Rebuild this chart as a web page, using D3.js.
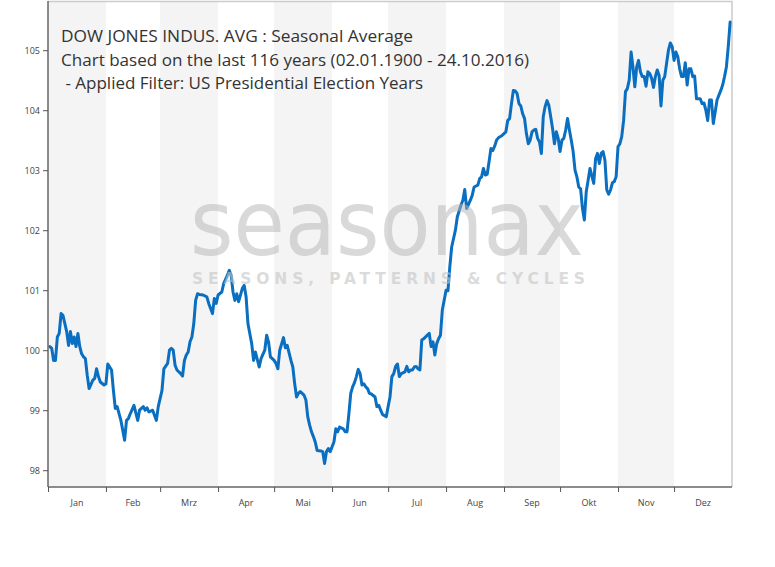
<!DOCTYPE html>
<html>
<head>
<meta charset="utf-8">
<script src="https://cdn.jsdelivr.net/npm/d3@7"></script>
<style>
  html, body { margin: 0; padding: 0; background: #fff; }
  svg { display: block; }
</style>
</head>
<body>
<svg id="chart" width="775" height="567"></svg>
<script>
// ---- data ----
const titleLines = [
  "DOW JONES INDUS. AVG : Seasonal Average",
  "Chart based on the last 116 years (02.01.1900 - 24.10.2016)",
  " - Applied Filter: US Presidential Election Years"
];
const monthLabels = ["Jan","Feb","Mrz","Apr","Mai","Jun","Jul","Aug","Sep","Okt","Nov","Dez"];
const yTicks = [98, 99, 100, 101, 102, 103, 104, 105];
// day offsets from 1 January (leap year), and seasonal values
const dayOffsets = [1,2,3,4,5,6,7,8,10,11,12,13,14,15,16,17,18,19,20,21,22,24,25,26,27,28,30,31,32,33,34,35,36,37,39,41,42,43,44,46,48,49,50,51,52,53,54,56,58,59,61,62,64,65,66,67,68,69,71,72,73,74,75,76,77,78,79,80,81,83,85,86,88,89,90,91,93,94,96,97,98,99,100,101,102,104,105,106,107,109,110,111,113,114,116,117,118,119,121,122,123,124,126,127,128,130,131,132,133,134,135,137,138,139,140,141,142,143,144,146,147,148,149,150,151,153,154,155,156,158,159,160,161,162,163,164,165,166,167,168,169,170,171,172,173,175,176,177,178,179,181,182,183,184,185,186,187,188,189,191,192,193,194,195,196,197,198,199,200,201,203,204,205,206,207,208,209,210,211,213,214,215,216,218,219,221,222,223,224,226,227,228,230,231,232,233,234,235,236,237,238,239,240,241,243,244,245,246,247,248,249,250,251,252,253,254,255,256,257,258,259,260,261,262,263,264,265,266,267,268,269,270,271,272,273,274,275,276,277,278,279,280,281,282,283,284,285,286,287,288,289,290,292,293,294,295,296,297,298,299,300,301,302,303,304,305,306,307,308,309,310,311,312,313,314,315,316,317,318,319,320,321,322,323,324,325,326,327,328,329,330,331,332,333,334,335,336,337,338,339,340,341,342,343,344,345,346,347,348,349,350,351,352,353,354,355,356,357,358,360,361,362,363,364,365];
const seasonalValues = [100.06,100.03,99.83,99.83,100.22,100.28,100.61,100.58,100.31,100.08,100.31,100.11,100.22,100.06,100.28,100.06,99.94,99.89,99.86,99.58,99.36,99.5,99.53,99.69,99.56,99.47,99.42,99.44,99.77,99.72,99.67,99.33,99.03,99.06,98.83,98.5,98.83,98.86,98.94,99.08,98.83,99.0,99.03,99.06,99.0,99.04,98.97,99.0,98.83,99.06,99.33,99.69,99.78,100.0,100.03,100.0,99.75,99.67,99.61,99.57,99.83,99.92,99.97,100.14,100.22,100.44,100.83,100.94,100.93,100.92,100.89,100.78,100.61,100.86,100.78,100.92,100.97,101.11,101.25,101.33,101.25,100.97,100.83,100.94,100.81,101.03,101.08,100.89,100.44,100.11,99.83,99.97,99.72,99.86,100.0,100.25,100.14,99.89,99.83,99.78,99.69,100.0,100.21,100.04,100.08,99.83,99.72,99.44,99.22,99.28,99.31,99.25,99.17,98.89,98.75,98.64,98.56,98.47,98.33,98.32,98.31,98.11,98.31,98.36,98.31,98.47,98.69,98.64,98.72,98.69,98.64,98.64,98.94,99.28,99.39,99.46,99.56,99.68,99.61,99.42,99.44,99.39,99.36,99.28,99.27,99.22,99.06,99.08,99.0,98.93,98.89,99.06,99.22,99.56,99.61,99.73,99.77,99.56,99.61,99.64,99.73,99.64,99.67,99.67,99.72,99.73,99.69,99.67,100.17,100.19,100.25,100.28,100.06,100.14,99.92,100.11,100.19,100.25,100.67,101.0,100.99,101.39,101.72,102.0,102.22,102.42,102.5,102.68,102.36,102.5,102.58,102.72,102.75,102.86,102.89,103.03,102.92,102.93,103.14,103.36,103.33,103.4,103.5,103.54,103.58,103.61,103.64,103.83,103.86,104.11,104.33,104.32,104.28,104.11,104.07,103.94,103.86,103.61,103.44,103.5,103.64,103.67,103.68,103.53,103.47,103.28,103.89,104.06,104.16,104.08,103.89,103.69,103.44,103.64,103.53,103.31,103.5,103.53,103.67,103.86,103.67,103.5,103.31,103.0,102.89,102.72,102.69,102.36,102.17,102.64,102.83,103.03,102.78,103.19,103.28,103.11,103.28,103.31,103.17,102.67,102.6,102.67,102.79,102.81,102.89,103.39,103.44,103.56,103.83,104.31,104.36,104.5,104.97,104.72,104.39,104.72,104.83,104.64,104.56,104.56,104.4,104.64,104.61,104.53,104.38,104.56,104.67,104.58,104.07,104.5,104.56,104.78,105.0,105.12,105.06,104.83,104.97,104.89,104.69,104.56,104.56,104.79,104.42,104.69,104.69,104.56,104.57,104.19,104.19,104.19,104.11,104.12,104.0,103.83,104.17,104.17,103.78,103.97,104.17,104.33,104.42,104.56,104.72,105.06,105.47];
const watermarkMain = "seasonax";
const watermarkSub = "SEASONS, PATTERNS & CYCLES";

// ---- layout ----
const margin = {left: 48, top: 1, right: 43, bottom: 80};
const W = 775, H = 567;
const innerW = W - margin.left - margin.right; // 684
const innerH = H - margin.top - margin.bottom; // 486

const yearStart = new Date(2016, 0, 1);
const yearEnd = new Date(2017, 0, 1);
const data = dayOffsets.map((d, i) => ({date: d3.timeDay.offset(yearStart, d), value: seasonalValues[i]}));

const x = d3.scaleTime().domain([yearStart, yearEnd]).range([0, innerW]);
const y = d3.scaleLinear().domain([97.72, 97.72 + innerH / 60]).range([innerH, 0]);

const svg = d3.select("#chart");
const g = svg.append("g").attr("transform", `translate(${margin.left},${margin.top})`);

// month bands
const months = d3.timeMonth.range(yearStart, yearEnd);
g.append("g").selectAll("rect")
  .data(months)
  .join("rect")
  .attr("x", d => x(d))
  .attr("y", 0)
  .attr("width", d => x(d3.timeMonth.offset(d, 1)) - x(d))
  .attr("height", innerH)
  .attr("fill", (d, i) => i % 2 === 0 ? "#f4f4f4" : "#ffffff");

// watermark (one text element, two lines)
const wm = svg.append("text").attr("pointer-events", "none")
  .style("font-family", "'DejaVu Sans', sans-serif");
wm.append("tspan")
  .attr("x", 190).attr("y", 255)
  .attr("textLength", 394).attr("lengthAdjust", "spacingAndGlyphs")
  .style("font-size", "91px")
  .attr("fill", "#b4b4b4").attr("fill-opacity", 0.5)
  .text(watermarkMain);
wm.append("tspan")
  .attr("x", 192).attr("y", 283.5)
  .attr("textLength", 393).attr("lengthAdjust", "spacing")
  .style("font-size", "15.5px").style("font-weight", "bold")
  .attr("fill", "#c4c4c4").attr("fill-opacity", 0.6)
  .text(watermarkSub);

// plot frame (top/right)
g.append("path")
  .attr("d", `M0,0.5H${innerW}V${innerH}`)
  .attr("fill", "none").attr("stroke", "#cccccc").attr("stroke-width", 1.5);

// line
const line = d3.line().x(d => x(d.date)).y(d => y(d.value));
g.append("path")
  .datum(data)
  .attr("d", line)
  .attr("fill", "none")
  .attr("stroke", "#0a6fc0")
  .attr("stroke-width", 3)
  .attr("stroke-linejoin", "round")
  .attr("stroke-linecap", "round");

// axes
const yAxis = g.append("g")
  .call(d3.axisLeft(y).tickValues(yTicks).tickSize(5).tickPadding(3).tickFormat(d3.format("d")));
const xAxis = g.append("g")
  .attr("transform", `translate(0,${innerH})`)
  .call(d3.axisBottom(x).tickValues(months).tickSize(5).tickFormat(""));
[yAxis, xAxis].forEach(a => {
  a.select(".domain").attr("stroke", "#666").attr("stroke-width", 1.5);
  a.selectAll(".tick line").attr("stroke", "#555");
});
yAxis.select(".domain").attr("d", `M0,0V${innerH}`);
xAxis.select(".domain").attr("d", `M0,0H${innerW}`);
yAxis.selectAll(".tick text")
  .style("font-family", "'Open Sans', sans-serif").style("font-size", "9px").attr("fill", "#444");

// month labels centered in month
g.append("g").selectAll("text")
  .data(months)
  .join("text")
  .attr("x", d => (x(d) + x(d3.timeMonth.offset(d, 1))) / 2)
  .attr("y", innerH + 19)
  .attr("text-anchor", "middle")
  .style("font-family", "'Open Sans', sans-serif").style("font-size", "9px")
  .attr("fill", "#444")
  .text((d, i) => monthLabels[i]);

// title
const titleWidths = [352, 468, 362];
const titleX = [61, 61, 61];
const titleY = [42, 66, 89];
svg.append("g").selectAll("text")
  .data(titleLines)
  .join("text")
  .attr("x", (d, i) => titleX[i])
  .attr("y", (d, i) => titleY[i])
  .attr("xml:space", "preserve")
  .style("white-space", "pre")
  .attr("textLength", (d, i) => titleWidths[i])
  .attr("lengthAdjust", "spacingAndGlyphs")
  .style("font-family", "'Open Sans', sans-serif").style("font-size", "17px")
  .attr("fill", "#333")
  .text(d => d);
</script>
</body>
</html>
